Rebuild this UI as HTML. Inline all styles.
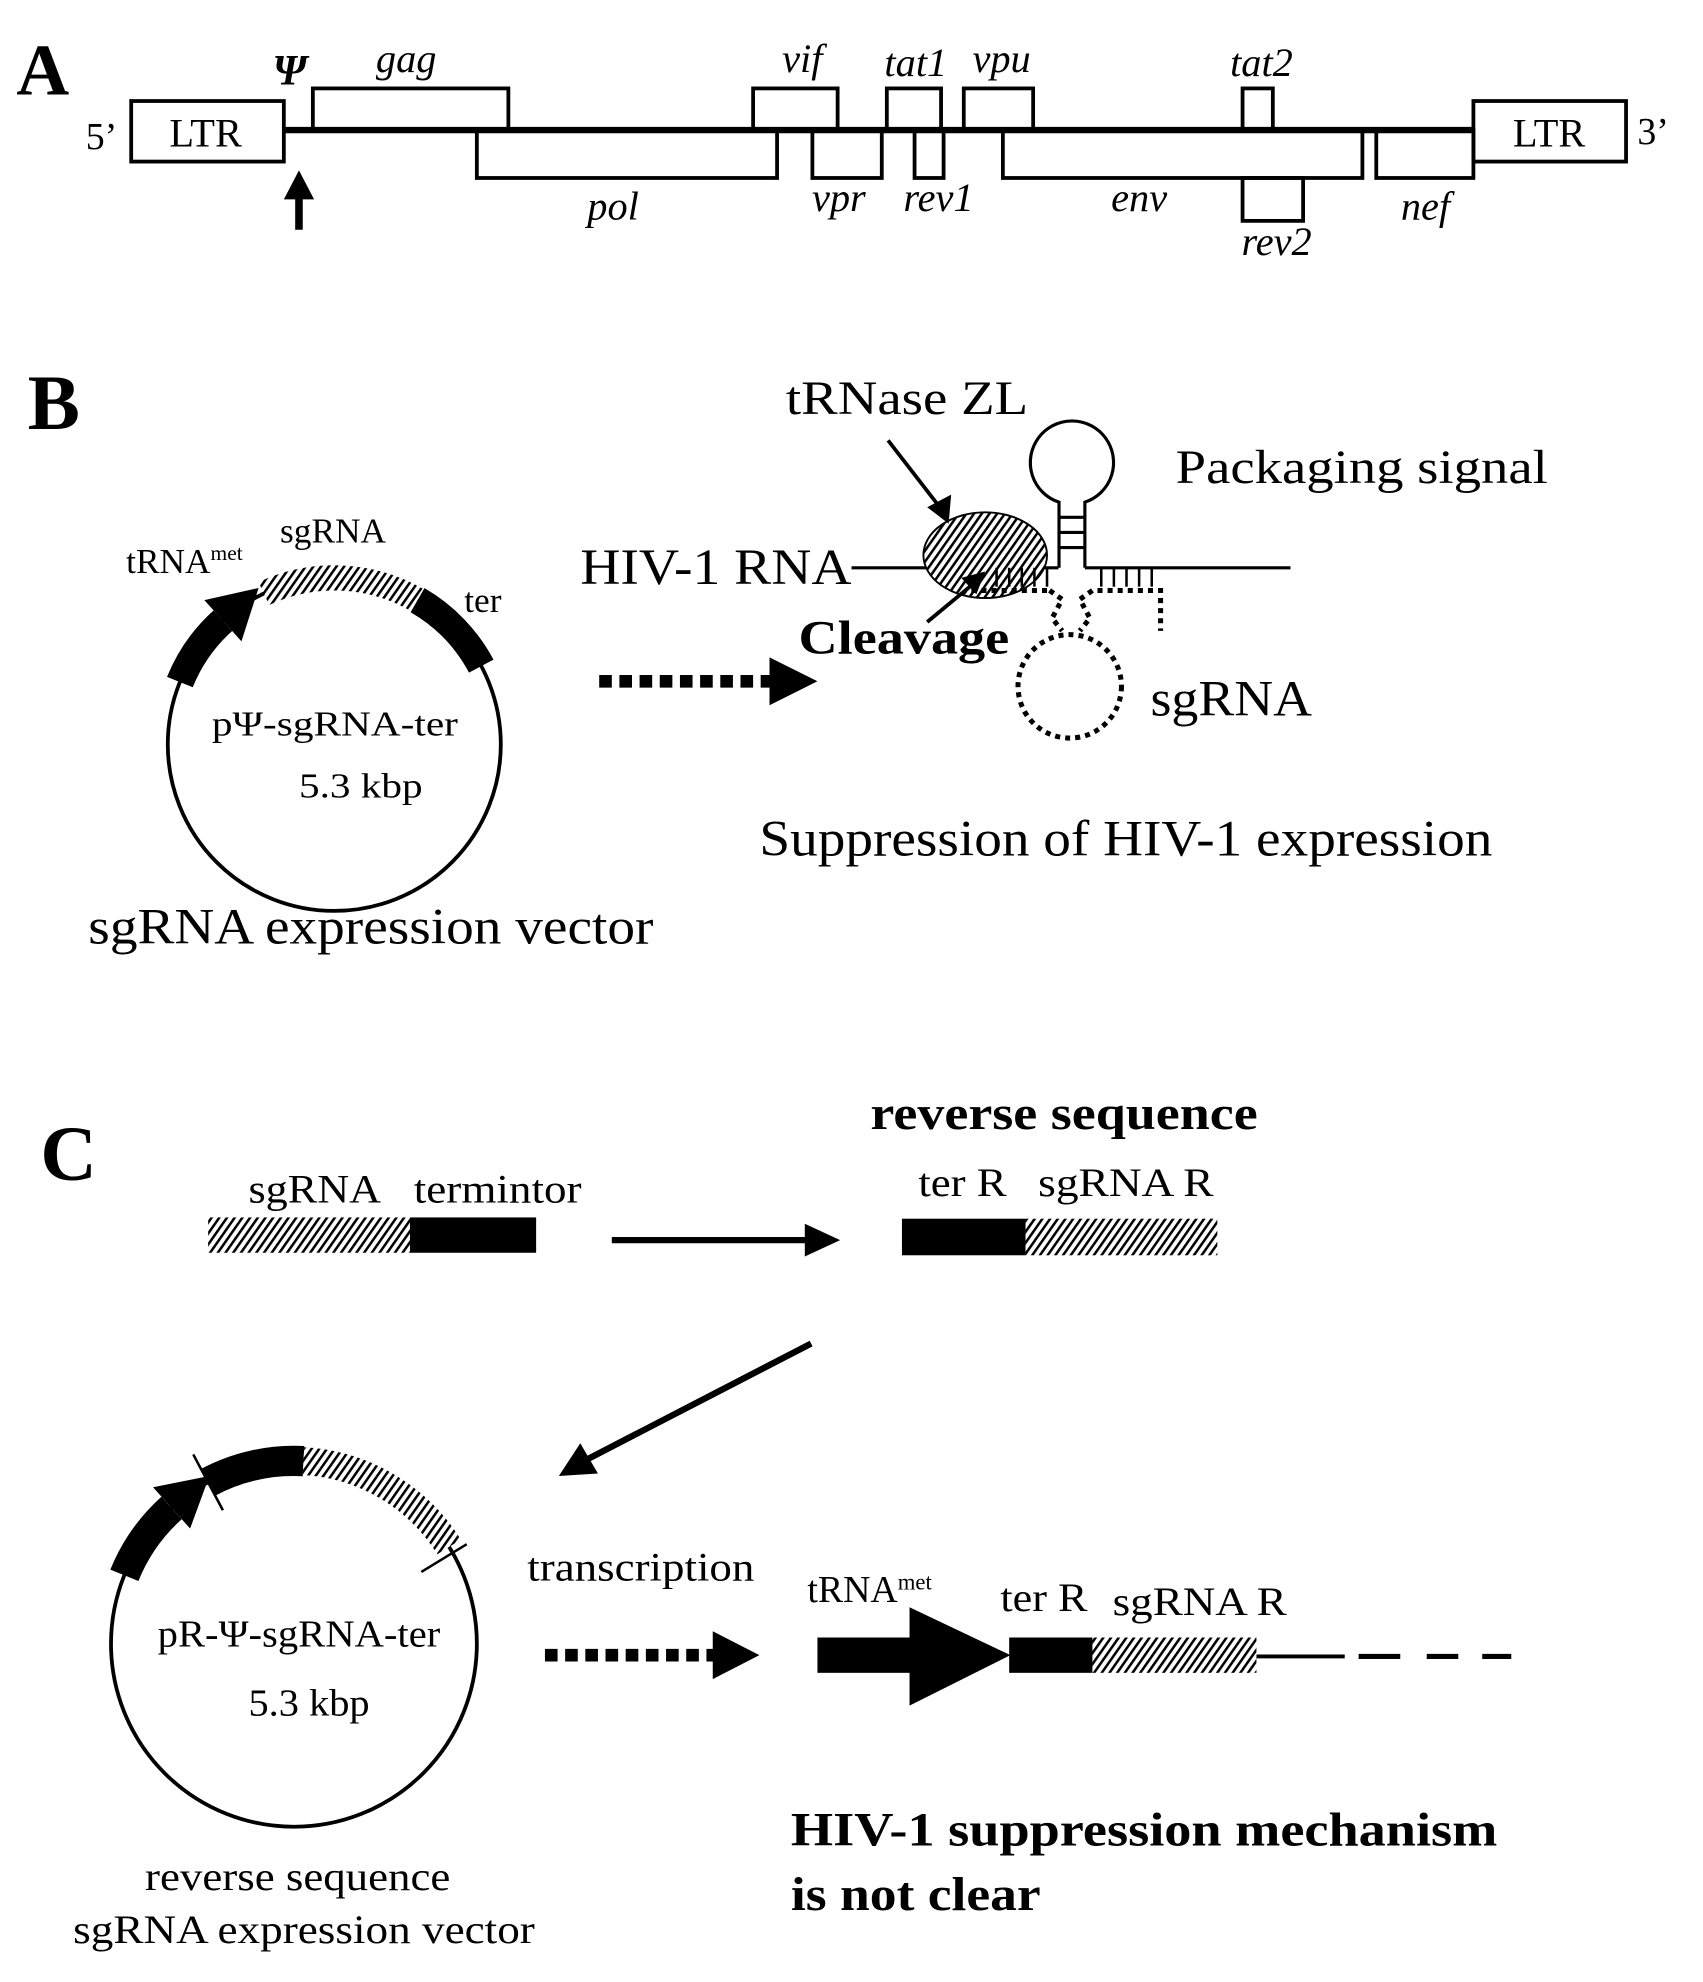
<!DOCTYPE html>
<html><head><meta charset="utf-8"><style>
html,body{margin:0;padding:0;background:#fff;}
svg{display:block;}
text{font-family:"Liberation Serif",serif;fill:#000;}
</style></head><body>
<svg width="1703" height="1982" viewBox="0 0 1350 1571" xmlns="http://www.w3.org/2000/svg">
<defs>
<pattern id="h" patternUnits="userSpaceOnUse" width="5" height="5" patternTransform="rotate(35)">
<rect width="5" height="5" fill="#fff"/><rect x="0" y="0" width="2" height="5" fill="#000"/>
</pattern>
</defs>

<!-- Panel A -->
<text x="13" y="75" font-size="58" font-weight="bold">A</text>
<g fill="none" stroke="#000" stroke-width="3">
<rect x="104" y="80" width="121" height="48"/>
<rect x="1168" y="80" width="121" height="48"/>
<rect x="248" y="70" width="155" height="33"/>
<rect x="378" y="103" width="238" height="38"/>
<rect x="597" y="70" width="67" height="33"/>
<rect x="644" y="103" width="55" height="38"/>
<rect x="703" y="70" width="43" height="33"/>
<rect x="725" y="103" width="23" height="38"/>
<rect x="764" y="70" width="55" height="33"/>
<rect x="795" y="103" width="285" height="38"/>
<rect x="985" y="70" width="24" height="33"/>
<rect x="985" y="141" width="48" height="34"/>
<rect x="1091" y="103" width="77" height="38"/>
</g>
<line x1="225" y1="103" x2="1168" y2="103" stroke="#000" stroke-width="5"/>
<text x="163" y="116" font-size="32" text-anchor="middle">LTR</text>
<text x="1228" y="116" font-size="32" text-anchor="middle">LTR</text>
<text x="68" y="118" font-size="30">5’</text>
<text x="1298" y="114" font-size="30">3’</text>
<text x="216" y="67" font-size="34" font-weight="bold" font-style="italic">Ψ</text>
<g font-size="32" font-style="italic" text-anchor="middle">
<text x="322" y="57">gag</text>
<text x="636" y="57">vif</text>
<text x="726" y="60">tat1</text>
<text x="794" y="57">vpu</text>
<text x="1000" y="60">tat2</text>
<text x="486" y="174">pol</text>
<text x="665" y="167">vpr</text>
<text x="744" y="167">rev1</text>
<text x="903" y="167">env</text>
<text x="1012" y="202">rev2</text>
<text x="1130" y="174">nef</text>
</g>
<line x1="237" y1="182" x2="237" y2="155" stroke="#000" stroke-width="6"/>
<polygon points="225,158 249,158 237,135" fill="#000"/>

<!-- Panel B -->
<text x="22" y="340" font-size="62" font-weight="bold">B</text>
<circle cx="265" cy="590" r="132" fill="none" stroke="#000" stroke-width="3"/>
<path d="M142.6,540.6 A132,132 0 0,1 176.7,491.9" fill="none" stroke="#000" stroke-width="22"/>
<polygon points="191.4,508.3 162,475.6 205,466" fill="#000"/>
<path d="M209.2,470.4 A132,132 0 0,1 331,475.7" fill="none" stroke="url(#h)" stroke-width="20"/>
<path d="M331,475.7 A132,132 0 0,1 381.5,528" fill="none" stroke="#000" stroke-width="22"/>
<text x="100" y="454" font-size="28">tRNA<tspan font-size="17" dy="-10">met</tspan></text>
<text x="222" y="430" font-size="28">sgRNA</text>
<text x="368" y="485" font-size="28">ter</text>
<text x="168" y="583" font-size="28" textLength="195" lengthAdjust="spacingAndGlyphs">pΨ-sgRNA-ter</text>
<text x="237" y="632" font-size="28" textLength="98" lengthAdjust="spacingAndGlyphs">5.3 kbp</text>
<text x="70" y="748" font-size="40" textLength="448" lengthAdjust="spacingAndGlyphs">sgRNA expression vector</text>

<line x1="475" y1="540" x2="612" y2="540" stroke="#000" stroke-width="10" stroke-dasharray="10,6"/>
<polygon points="610,521 648,540 610,559" fill="#000"/>

<text x="623" y="328" font-size="38" textLength="192" lengthAdjust="spacingAndGlyphs">tRNase ZL</text>
<text x="932" y="383" font-size="38" textLength="295" lengthAdjust="spacingAndGlyphs">Packaging signal</text>
<text x="460" y="463" font-size="40" textLength="215" lengthAdjust="spacingAndGlyphs">HIV-1 RNA</text>
<line x1="675" y1="450" x2="839" y2="450" stroke="#000" stroke-width="2.5"/>
<line x1="860" y1="450" x2="1023" y2="450" stroke="#000" stroke-width="2.5"/>
<ellipse cx="781" cy="440" rx="49" ry="34" fill="url(#h)" stroke="#000" stroke-width="1.5"/>
<g stroke="#000" stroke-width="2.5" fill="none">
<line x1="839.5" y1="450" x2="839.5" y2="397"/>
<line x1="860" y1="450" x2="860" y2="397"/>
<line x1="839.5" y1="410" x2="860" y2="410"/>
<line x1="839.5" y1="422" x2="860" y2="422"/>
<line x1="839.5" y1="434" x2="860" y2="434"/>
<path d="M839.5,398 A33,33 0 1,1 860,398"/>
</g>
<g stroke="#000" stroke-width="2">
<line x1="790" y1="450" x2="790" y2="465"/><line x1="800" y1="450" x2="800" y2="465"/><line x1="810" y1="450" x2="810" y2="465"/><line x1="820" y1="450" x2="820" y2="465"/><line x1="830" y1="450" x2="830" y2="465"/>
<line x1="873" y1="450" x2="873" y2="465"/><line x1="883" y1="450" x2="883" y2="465"/><line x1="893" y1="450" x2="893" y2="465"/><line x1="903" y1="450" x2="903" y2="465"/><line x1="913" y1="450" x2="913" y2="465"/>
</g>
<g stroke="#000" stroke-width="4" fill="none" stroke-dasharray="4,4">
<line x1="770" y1="468" x2="832" y2="468"/>
<polyline points="832,468 842,475 834,490 842,500"/>
<polyline points="866,468 856,475 864,490 856,500"/>
<polyline points="870,468 920,468 920,500"/>
<circle cx="848" cy="544" r="41"/>
</g>
<g stroke="#000" stroke-width="3">
<line x1="704" y1="349" x2="745" y2="402"/>
<line x1="735" y1="493" x2="770" y2="464"/>
</g>
<polygon points="735,402 754,392 752,415" fill="#000"/>
<polygon points="762,458 774,471 781,453" fill="#000"/>
<text x="633" y="518" font-size="38" font-weight="bold" textLength="167" lengthAdjust="spacingAndGlyphs">Cleavage</text>
<text x="912" y="567" font-size="40" textLength="128" lengthAdjust="spacingAndGlyphs">sgRNA</text>
<text x="602" y="678" font-size="40" textLength="581" lengthAdjust="spacingAndGlyphs">Suppression of HIV-1 expression</text>

<!-- Panel C -->
<text x="32" y="935" font-size="62" font-weight="bold">C</text>
<text x="197" y="953" font-size="32" textLength="105" lengthAdjust="spacingAndGlyphs">sgRNA</text>
<text x="328" y="953" font-size="32" textLength="133" lengthAdjust="spacingAndGlyphs">termintor</text>
<rect x="165" y="965" width="160" height="28" fill="url(#h)"/>
<rect x="325" y="965" width="100" height="28" fill="#000"/>
<line x1="485" y1="983" x2="642" y2="983" stroke="#000" stroke-width="5"/>
<polygon points="638,970 666,983 638,996" fill="#000"/>
<text x="690" y="895" font-size="38" font-weight="bold" textLength="307" lengthAdjust="spacingAndGlyphs">reverse sequence</text>
<text x="728" y="948" font-size="32" textLength="70" lengthAdjust="spacingAndGlyphs">ter R</text>
<text x="823" y="948" font-size="32" textLength="139" lengthAdjust="spacingAndGlyphs">sgRNA R</text>
<rect x="715" y="966" width="98" height="29" fill="#000"/>
<rect x="813" y="966" width="152" height="29" fill="url(#h)"/>
<line x1="643" y1="1065" x2="465" y2="1157" stroke="#000" stroke-width="5"/>
<polygon points="443,1170 460,1144 474,1168" fill="#000"/>

<circle cx="233" cy="1303" r="145" fill="none" stroke="#000" stroke-width="3"/>
<path d="M98.6,1248.7 A145,145 0 0,1 136,1195.3" fill="none" stroke="#000" stroke-width="24"/>
<polygon points="150.7,1211.6 121.3,1178.9 166,1170" fill="#000"/>
<path d="M164.9,1175 A145,145 0 0,1 240.6,1158.2" fill="none" stroke="#000" stroke-width="24"/>
<path d="M240.6,1158.2 A145,145 0 0,1 356,1226.2" fill="none" stroke="url(#h)" stroke-width="22"/>
<line x1="176.7" y1="1197.1" x2="153.2" y2="1152.9" stroke="#000" stroke-width="2"/>
<line x1="334" y1="1246" x2="370" y2="1224" stroke="#000" stroke-width="2"/>
<text x="125" y="1305" font-size="30" textLength="224" lengthAdjust="spacingAndGlyphs">pR-Ψ-sgRNA-ter</text>
<text x="197" y="1360" font-size="30" textLength="96" lengthAdjust="spacingAndGlyphs">5.3 kbp</text>
<text x="115" y="1498" font-size="32" textLength="242" lengthAdjust="spacingAndGlyphs">reverse sequence</text>
<text x="58" y="1540" font-size="32" textLength="366" lengthAdjust="spacingAndGlyphs">sgRNA expression vector</text>
<text x="418" y="1253" font-size="32" textLength="180" lengthAdjust="spacingAndGlyphs">transcription</text>
<line x1="432" y1="1312" x2="567" y2="1312" stroke="#000" stroke-width="10" stroke-dasharray="10,6"/>
<polygon points="565,1293 602,1312 565,1331" fill="#000"/>

<rect x="648" y="1298" width="75" height="28" fill="#000"/>
<polygon points="721,1274 801,1312 721,1352" fill="#000"/>
<rect x="800" y="1298" width="66" height="28" fill="#000"/>
<rect x="866" y="1298" width="130" height="28" fill="url(#h)"/>
<line x1="996" y1="1313" x2="1066" y2="1313" stroke="#000" stroke-width="3"/>
<g stroke="#000" stroke-width="4">
<line x1="1077" y1="1313" x2="1110" y2="1313"/>
<line x1="1131" y1="1313" x2="1156" y2="1313"/>
<line x1="1175" y1="1313" x2="1198" y2="1313"/>
</g>
<text x="640" y="1270" font-size="30">tRNA<tspan font-size="18" dy="-10">met</tspan></text>
<text x="793" y="1277" font-size="32" textLength="69" lengthAdjust="spacingAndGlyphs">ter R</text>
<text x="882" y="1280" font-size="32" textLength="138" lengthAdjust="spacingAndGlyphs">sgRNA R</text>
<text x="627" y="1463" font-size="38" font-weight="bold" textLength="560" lengthAdjust="spacingAndGlyphs">HIV-1 suppression mechanism</text>
<text x="627" y="1514" font-size="38" font-weight="bold" textLength="198" lengthAdjust="spacingAndGlyphs">is not clear</text>
</svg>
</body></html>
